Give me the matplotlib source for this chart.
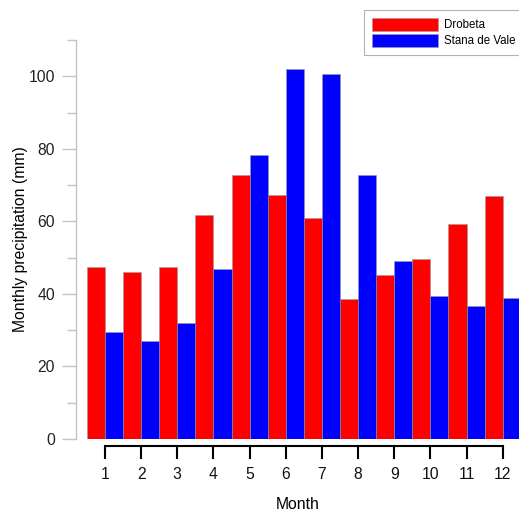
import matplotlib
matplotlib.use("Agg")
import matplotlib.pyplot as plt
import numpy as np
from matplotlib.ticker import MultipleLocator

months = [1, 2, 3, 4, 5, 6, 7, 8, 9, 10, 11, 12]
drobeta = [47.4, 46.1, 47.5, 61.8, 72.7, 67.2, 61.0, 38.6, 45.2, 49.6, 59.3, 67.0]
stana_de_vale = [29.4, 27.0, 32.1, 46.9, 78.3, 101.9, 100.6, 72.9, 49.0, 39.3, 36.7, 38.8]
series_names = ["Drobeta", "Stana de Vale"]

plt.rcParams['font.family'] = ['Liberation Sans', 'DejaVu Sans']

W, H = 519, 514
fig = plt.figure(figsize=(W / 100, H / 100), dpi=100)
ax = fig.add_axes([76 / W, (H - 439) / H, (W - 76) / W, (439 - 40) / H])

x = np.array(months, dtype=float)
ax.bar(x - 0.25, drobeta, width=0.5, color='#ff0000', edgecolor='#9a9a9a', linewidth=0.4, label=series_names[0])
ax.bar(x + 0.25, stana_de_vale, width=0.5, color='#0000ff', edgecolor='#9a9a9a', linewidth=0.4, label=series_names[1])

ax.set_xlim(0.2, 12.45)
ax.set_ylim(0, 110)

for s in ['top', 'right']:
    ax.spines[s].set_visible(False)
ax.spines['left'].set_color('#c4c4c4')
ax.spines['left'].set_linewidth(1.0)
ax.spines['bottom'].set_position(('outward', 4.8))
ax.spines['bottom'].set_bounds(1, 12)
ax.spines['bottom'].set_linewidth(1.5)
ax.spines['bottom'].set_color('black')

ax.set_xticks(months)
ax.set_xticklabels([str(m) for m in months])
ax.yaxis.set_major_locator(MultipleLocator(20))
ax.yaxis.set_minor_locator(MultipleLocator(10))
ax.tick_params(axis='y', which='major', length=10, width=1.0, color='#c4c4c4',
               labelsize=11.3, labelcolor='#222222', pad=5)
ax.tick_params(axis='y', which='minor', length=6.7, width=1.0, color='#c4c4c4')
ax.tick_params(axis='x', which='major', length=9.5, width=1.5, color='black',
               labelsize=11.3, labelcolor='#111111', pad=6)

ax.set_xlabel('Month', fontsize=11.3, labelpad=10.5)
ax.set_ylabel('Monthly precipitation (mm)', fontsize=11.3, labelpad=0.5)

leg = ax.legend(loc='upper left', bbox_to_anchor=(364 / W, 1 - 10 / H), bbox_transform=fig.transFigure,
                fontsize=8.3, frameon=True, fancybox=False, handlelength=5.7, handleheight=1.35,
                labelspacing=0.2, borderpad=0.7, handletextpad=0.55, borderaxespad=0)
leg.get_frame().set_edgecolor('#a0a0a0')
leg.get_frame().set_linewidth(0.8)

fig.savefig('out.png', dpi=100)
